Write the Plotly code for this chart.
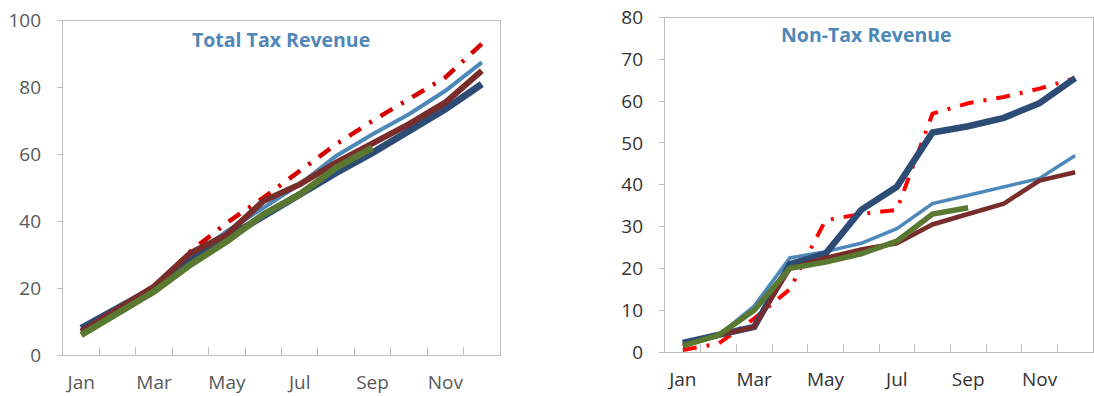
import plotly.graph_objects as go

months = ["Jan", "Feb", "Mar", "Apr", "May", "Jun", "Jul", "Aug", "Sep", "Oct", "Nov", "Dec"]
month_labels = ["Jan", "", "Mar", "", "May", "", "Jul", "", "Sep", "", "Nov", ""]

# Total Tax Revenue (left panel)
tax_light_blue = [7.5, 13.5, 20, 29, 37, 44, 51, 59.5, 66, 72, 79, 87.5]
tax_navy = [8, 14, 20, 28.5, 35, 42, 48, 54.5, 60.5, 67, 73.5, 81]
tax_maroon = [7, 13.5, 20.5, 30.5, 36, 46, 51, 57.5, 63, 69, 75.5, 85]
tax_olive = [6, 12.5, 19, 27, 34, 42, 48, 56, 62]
tax_red = [7, 13, 20, 31, 39.5, 47, 55, 63, 70, 76.5, 83, 93]

# Non-Tax Revenue (right panel)
nontax_light_blue = [2.2, 4, 11, 22.5, 24, 26, 29.5, 35.5, 37.5, 39.5, 41.5, 47]
nontax_navy = [2.2, 4, 6, 21, 23.5, 34, 39.5, 52.5, 54, 56, 59.5, 65.5]
nontax_maroon = [1.5, 4, 6, 20, 22.5, 24.5, 26, 30.5, 33, 35.5, 41, 43]
nontax_olive = [1.5, 4, 10, 20, 21.5, 23.5, 26.5, 33, 34.5]
nontax_red = [0.5, 2, 8, 15, 31.5, 33, 34, 57, 59.5, 61, 63, 65.5]

C_LIGHT = "#4D88BB"
C_NAVY = "#2C4C76"
C_MAROON = "#782D2B"
C_OLIVE = "#597830"
TITLE_C = "#4F87B8"
AXIS_C = "#BFBFBF"

W, H = 1094, 396
fig = go.Figure()

def add_panel(xa, ya, red, red_color, light, navy, maroon, olive, widths):
    wr, wl, wn, wm, wo = widths
    fig.add_trace(go.Scatter(x=months[:len(red)], y=red, mode="lines", xaxis=xa, yaxis=ya,
                             line=dict(color=red_color, width=wr, dash="14px,10px,3px,10px"),
                             showlegend=False))
    fig.add_trace(go.Scatter(x=months[:len(light)], y=light, mode="lines", xaxis=xa, yaxis=ya,
                             line=dict(color=C_LIGHT, width=wl), showlegend=False))
    fig.add_trace(go.Scatter(x=months[:len(navy)], y=navy, mode="lines", xaxis=xa, yaxis=ya,
                             line=dict(color=C_NAVY, width=wn), showlegend=False))
    fig.add_trace(go.Scatter(x=months[:len(maroon)], y=maroon, mode="lines", xaxis=xa, yaxis=ya,
                             line=dict(color=C_MAROON, width=wm), showlegend=False))
    fig.add_trace(go.Scatter(x=months[:len(olive)], y=olive, mode="lines", xaxis=xa, yaxis=ya,
                             line=dict(color=C_OLIVE, width=wo), showlegend=False))

add_panel("x", "y", tax_red, "#D40000", tax_light_blue, tax_navy, tax_maroon, tax_olive,
          (4.5, 4, 7, 6, 6.5))
add_panel("x2", "y2", nontax_red, "#FF0000", nontax_light_blue, nontax_navy, nontax_maroon, nontax_olive,
          (4, 3.5, 6.5, 4.5, 5.5))

font_family = "Open Sans, Noto Sans, sans-serif"

def xaxis(domain, anchor, color):
    return dict(domain=domain, anchor=anchor, type="category", categoryorder="array",
                categoryarray=months, range=[-0.5, 11.5], tickmode="array", tickvals=months,
                ticktext=month_labels, tickson="boundaries", ticks="inside", ticklen=8,
                tickcolor=AXIS_C, tickwidth=1, showline=True, linecolor=AXIS_C, linewidth=1.3,
                mirror=True, showgrid=False, zeroline=False, ticklabelstandoff=10,
                tickangle=0, automargin=False,
                tickfont=dict(family=font_family, size=19, color=color))

def yaxis(domain, anchor, rng, dtick, color):
    return dict(domain=domain, anchor=anchor, range=rng, dtick=dtick, tick0=0,
                ticks="outside", ticklen=5, tickcolor=AXIS_C, tickwidth=1,
                showline=True, linecolor=AXIS_C, linewidth=1.3, mirror=True,
                showgrid=False, zeroline=False, ticklabelstandoff=12, automargin=False,
                tickfont=dict(family=font_family, size=19, color=color))

fig.update_layout(
    width=W, height=H, margin=dict(l=0, r=0, t=0, b=0, autoexpand=False),
    paper_bgcolor="white", plot_bgcolor="white",
    xaxis=xaxis([63 / W, 500 / W], "y", "#595959"),
    yaxis=yaxis([(H - 355) / H, (H - 20.5) / H], "x", [0, 100], 20, "#595959"),
    xaxis2=xaxis([665 / W, 1093 / W], "y2", "#333333"),
    yaxis2=yaxis([(H - 352) / H, (H - 17.5) / H], "x2", [0, 80], 10, "#333333"),
    annotations=[
        dict(text="<b>Total Tax Revenue</b>", x=281 / W, y=1 - 39 / H, xref="paper", yref="paper",
             showarrow=False, xanchor="center", yanchor="middle",
             font=dict(family=font_family, size=19.5, color=TITLE_C)),
        dict(text="<b>Non-Tax Revenue</b>", x=866 / W, y=1 - 35 / H, xref="paper", yref="paper",
             showarrow=False, xanchor="center", yanchor="middle",
             font=dict(family=font_family, size=19.5, color=TITLE_C)),
    ],
)

fig.write_html("out.html")
